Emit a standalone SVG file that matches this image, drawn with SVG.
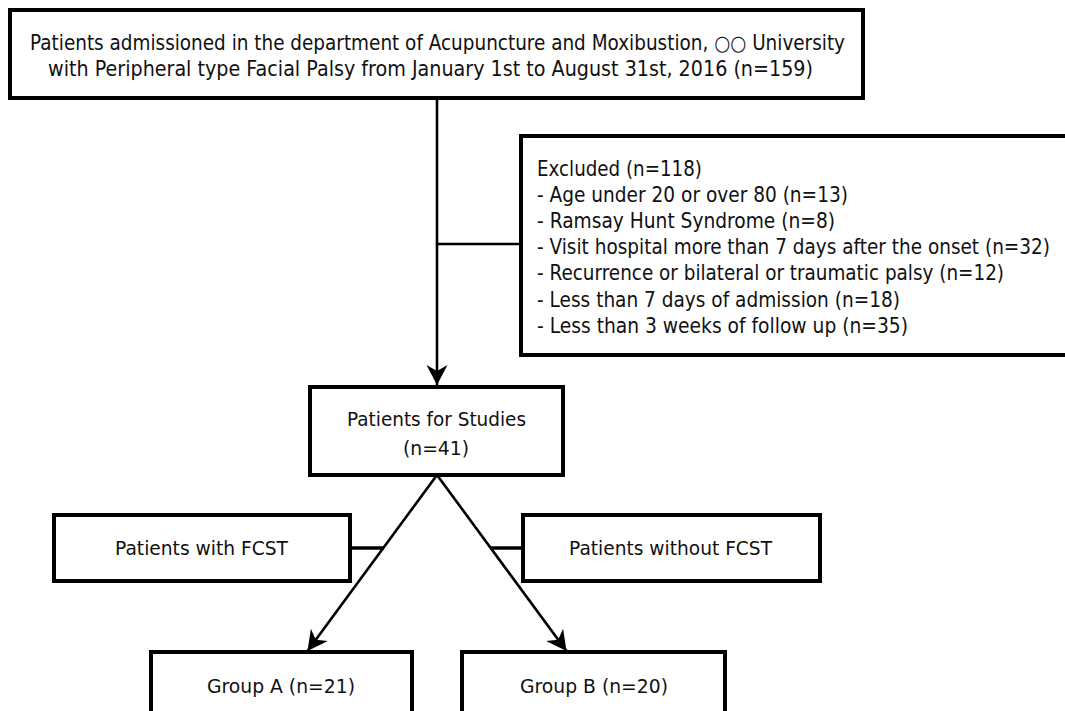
<svg xmlns="http://www.w3.org/2000/svg" width="1065" height="711" viewBox="0 0 1065 711">
<style>
.box{fill:#fff;stroke:#000;stroke-width:4}
.t{font-family:"DejaVu Sans","Liberation Sans",sans-serif;font-size:21px;fill:#111}
.s{font-size:20px}
.c{fill:none;stroke:#000;stroke-width:2.6}
</style>
<defs>
<marker id="ah" markerUnits="userSpaceOnUse" viewBox="-22 -12 24 24" refX="0" refY="0" markerWidth="24" markerHeight="24" orient="auto">
<path d="M0,0 L-20,-10.5 L-14,0 L-20,10.5 Z" fill="#000"/>
</marker>
</defs>
<rect width="1065" height="711" fill="#fff"/>
<g id="connectors">
<line class="c" x1="437" y1="98" x2="437" y2="385" marker-end="url(#ah)"/>
<line class="c" x1="437" y1="244" x2="521" y2="244"/>
<line class="c" x1="437" y1="475" x2="307.5" y2="651" marker-end="url(#ah)"/>
<line class="c" x1="437" y1="475" x2="566.5" y2="651" marker-end="url(#ah)"/>
<line class="c" x1="350" y1="548" x2="384" y2="548" style="stroke-width:3.5"/>
<line class="c" x1="490" y1="548" x2="523" y2="548" style="stroke-width:3.5"/>
</g>
<g id="node-source">
<rect class="box" x="10" y="10" width="853" height="88"/>
<text class="t" x="30" y="50" textLength="815" lengthAdjust="spacingAndGlyphs">Patients admissioned in the department of Acupuncture and Moxibustion, ○○ University</text>
<text class="t" x="48" y="75.5" textLength="765" lengthAdjust="spacingAndGlyphs">with Peripheral type Facial Palsy from January 1st to August 31st, 2016 (n=159)</text>
</g>
<g id="node-excluded">
<path class="box" d="M1067,136 H521 V355 H1067"/>
<text class="t" x="537" y="175.5" textLength="165" lengthAdjust="spacingAndGlyphs">Excluded (n=118)</text>
<text class="t" x="537" y="201.7" textLength="311" lengthAdjust="spacingAndGlyphs">- Age under 20 or over 80 (n=13)</text>
<text class="t" x="537" y="227.9" textLength="298" lengthAdjust="spacingAndGlyphs">- Ramsay Hunt Syndrome (n=8)</text>
<text class="t" x="537" y="254.1" textLength="513" lengthAdjust="spacingAndGlyphs">- Visit hospital more than 7 days after the onset (n=32)</text>
<text class="t" x="537" y="280.3" textLength="467" lengthAdjust="spacingAndGlyphs">- Recurrence or bilateral or traumatic palsy (n=12)</text>
<text class="t" x="537" y="306.5" textLength="363" lengthAdjust="spacingAndGlyphs">- Less than 7 days of admission (n=18)</text>
<text class="t" x="537" y="332.7" textLength="371" lengthAdjust="spacingAndGlyphs">- Less than 3 weeks of follow up (n=35)</text>
</g>
<g id="node-study">
<rect class="box" x="310" y="387" width="253" height="88"/>
<text class="t s" x="347" y="426" textLength="179" lengthAdjust="spacingAndGlyphs">Patients for Studies</text>
<text class="t s" x="403" y="455" textLength="66" lengthAdjust="spacingAndGlyphs">(n=41)</text>
</g>
<g id="node-with-fcst">
<rect class="box" x="54" y="515" width="296" height="66"/>
<text class="t s" x="115" y="555" textLength="173" lengthAdjust="spacingAndGlyphs">Patients with FCST</text>
</g>
<g id="node-without-fcst">
<rect class="box" x="523" y="515" width="297" height="66"/>
<text class="t s" x="569" y="555" textLength="203" lengthAdjust="spacingAndGlyphs">Patients without FCST</text>
</g>
<g id="node-group-a">
<path class="box" d="M151,713 V652 H412 V713"/>
<text class="t s" x="207" y="693" textLength="148" lengthAdjust="spacingAndGlyphs">Group A (n=21)</text>
</g>
<g id="node-group-b">
<path class="box" d="M462,713 V652 H725 V713"/>
<text class="t s" x="520" y="693" textLength="148" lengthAdjust="spacingAndGlyphs">Group B (n=20)</text>
</g>
</svg>
